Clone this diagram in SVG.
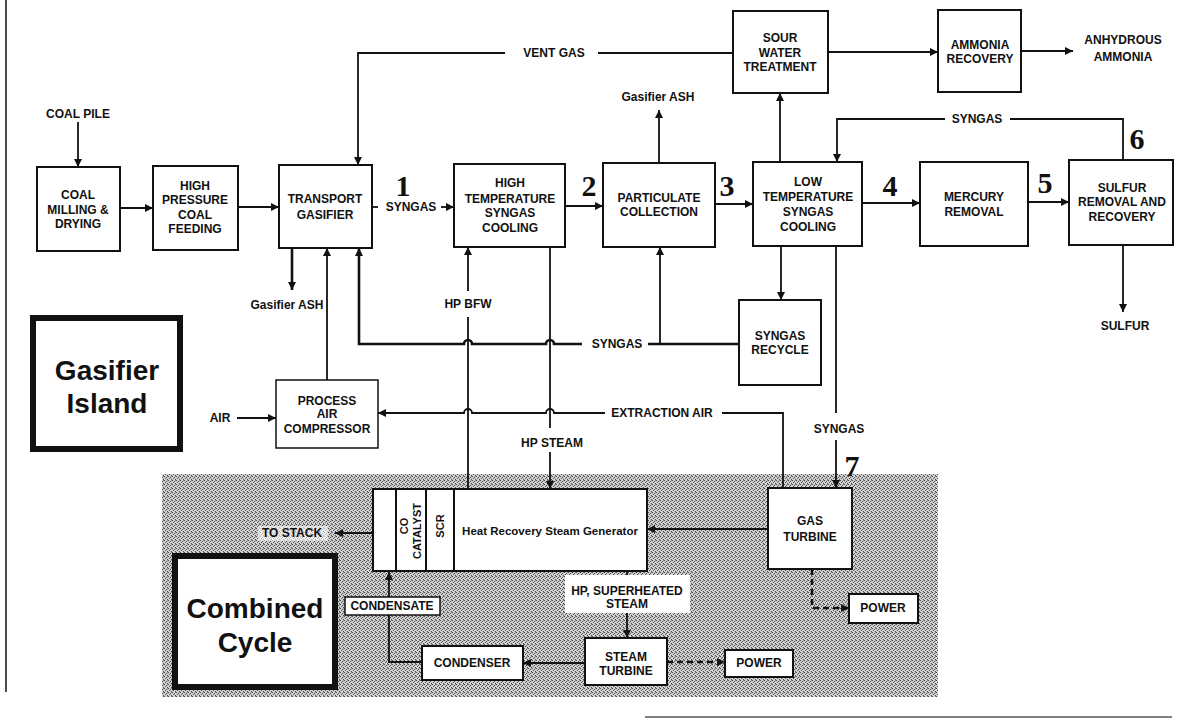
<svg xmlns="http://www.w3.org/2000/svg" width="1179" height="721" viewBox="0 0 1179 721">
<style>
.t{font-family:"Liberation Sans",Arial,sans-serif;font-weight:bold;font-size:12px;text-anchor:middle;fill:#111}
.n{font-family:"Liberation Serif","Times New Roman",serif;font-weight:bold;font-size:30px;text-anchor:middle;fill:#111}
.big{font-family:"Liberation Sans",Arial,sans-serif;font-weight:bold;font-size:28px;text-anchor:middle;fill:#111}
.box{fill:#fff;stroke:#111;stroke-width:2}
.thin{fill:#fff;stroke:#111;stroke-width:1.5}
.thick{fill:#fff;stroke:#111;stroke-width:6}
.ln{fill:none;stroke:#111;stroke-width:1.8}
.lnA{fill:none;stroke:#111;stroke-width:1.8;marker-end:url(#ah)}
.lnB{fill:none;stroke:#111;stroke-width:2.6;marker-end:url(#ah)}
.dash{fill:none;stroke:#111;stroke-width:2.6;stroke-dasharray:6 4;marker-end:url(#ah)}
</style>
<defs>
<marker id="ah" viewBox="0 0 10 10" refX="10" refY="5" markerUnits="userSpaceOnUse" markerWidth="10" markerHeight="8" orient="auto">
<path d="M0,0 L10,5 L0,10 z" fill="#111"/>
</marker>
<pattern id="dither" width="4" height="4" patternUnits="userSpaceOnUse">
<rect width="4" height="4" fill="#d0d0d0"/>
<rect x="0" y="0" width="1" height="1" fill="#4a4a4a"/>
<rect x="2" y="1" width="1" height="1" fill="#4a4a4a"/>
<rect x="1" y="2" width="1" height="1" fill="#5a5a5a"/>
<rect x="3" y="3" width="1" height="1" fill="#4a4a4a"/>
<rect x="3" y="0" width="1" height="1" fill="#8a8a8a"/>
</pattern>
</defs>
<rect width="1179" height="721" fill="#fff"/>
<path d="M6,0 V692" stroke="#111" stroke-width="1.5"/>
<path d="M645,717 H1172" stroke="#555" stroke-width="1.5"/>
<rect id="combined-cycle-area" x="162" y="474" width="776" height="223" fill="url(#dither)"/>

<g id="connectors">
<path class="lnA" d="M78,122 V167"/>
<path class="lnA" d="M120,208 H153"/>
<path class="lnA" d="M238,207 H279"/>
<path class="ln" d="M372,207 H378"/>
<path class="lnA" d="M441,207 H454"/>
<path class="lnA" d="M565,206 H603"/>
<path class="lnA" d="M715,204 H753"/>
<path class="lnA" d="M862,203 H920"/>
<path class="lnA" d="M1028,202 H1069"/>
<path class="lnA" d="M659,163 V110"/>
<path class="ln" d="M733,53 H598"/>
<path class="lnA" d="M505,53 H358 V165"/>
<path class="lnA" d="M828,52 H938"/>
<path class="lnA" d="M1021,51 H1073"/>
<path class="lnA" d="M780,162 V93"/>
<path class="ln" d="M1123,160 V119 H1010"/>
<path class="lnA" d="M945,119 H837 V162"/>
<path class="lnA" d="M1123,245 V312"/>
<path class="lnB" d="M292,248 V290"/>
<path class="lnA" d="M327,380 V248"/>
<path class="ln" d="M739,344 H648" style="stroke-width:2.6"/>
<path class="lnB" d="M582,344 H554 A4,4 0 0 0 546,344 H472 A4,4 0 0 0 464,344 H359 V248"/>
<path class="lnA" d="M660,344 V247"/>
<path class="lnA" d="M781,246 V300"/>
<path class="ln" d="M836,246 V413"/>
<path class="lnA" d="M836,440 V488"/>
<path class="ln" d="M783,488 V413 H722"/>
<path class="lnA" d="M605,413 H554 A4,4 0 0 0 546,413 H472 A4,4 0 0 0 464,413 H378"/>
<path class="lnA" d="M237,418 H276"/>
<path class="ln" d="M468,489 V317"/>
<path class="lnA" d="M468,291 V247"/>
<path class="ln" d="M550,247 V428"/>
<path class="lnA" d="M550,452 V489"/>
<path class="lnA" d="M768,529 H647"/>
<path class="lnA" d="M373,533 H335"/>
<path class="lnA" d="M627,571 V638"/>
<path class="lnA" d="M585,663 H523"/>
<path class="lnA" d="M422,662 H389 V572"/>
<path class="dash" d="M667,662 H725"/>
<path class="dash" d="M812,569 V608 H849"/>
</g>

<g id="labels">
<text class="t" x="411" y="211">SYNGAS</text>
<text class="n" x="403" y="196">1</text>
<text class="n" x="589" y="196">2</text>
<text class="n" x="727" y="196">3</text>
<text class="n" x="890" y="196">4</text>
<text class="n" x="1045" y="193">5</text>
<text class="n" x="1137" y="149">6</text>
<text class="n" x="852" y="476">7</text>
<text class="t" x="658" y="101">Gasifier ASH</text>
<text class="t" x="554" y="57">VENT GAS</text>
<text class="t" x="977" y="123">SYNGAS</text>
<text class="t" x="287" y="309">Gasifier ASH</text>
<text class="t" x="617" y="348">SYNGAS</text>
<text class="t" x="839" y="433">SYNGAS</text>
<text class="t" x="662" y="417">EXTRACTION AIR</text>
<text class="t" x="220" y="422">AIR</text>
<text class="t" x="468" y="308">HP BFW</text>
<text class="t" x="552" y="447">HP STEAM</text>
<text class="t" x="1125" y="330">SULFUR</text>
<rect x="258" y="526" width="70" height="15" fill="#fff" opacity="0.6"/>
<text class="t" x="292" y="537">TO STACK</text>
</g>

<g id="coal-pile"><text class="t" x="78" y="118">COAL PILE</text></g>
<g id="coal-milling"><rect class="box" x="37" y="167" width="83" height="84"/>
<text class="t" x="78" y="199">COAL</text><text class="t" x="78" y="214">MILLING &amp;</text><text class="t" x="78" y="228">DRYING</text></g>
<g id="hp-coal-feeding"><rect class="box" x="153" y="166" width="85" height="84"/>
<text class="t" x="195" y="190">HIGH</text><text class="t" x="195" y="204">PRESSURE</text><text class="t" x="195" y="219">COAL</text><text class="t" x="195" y="233">FEEDING</text></g>
<g id="transport-gasifier"><rect class="box" x="279" y="165" width="93" height="83"/>
<text class="t" x="325" y="203">TRANSPORT</text><text class="t" x="325" y="219">GASIFIER</text></g>
<g id="ht-syngas-cooling"><rect class="box" x="454" y="164" width="111" height="83"/>
<text class="t" x="510" y="187">HIGH</text><text class="t" x="510" y="203">TEMPERATURE</text><text class="t" x="510" y="217">SYNGAS</text><text class="t" x="510" y="232">COOLING</text></g>
<g id="particulate-collection"><rect class="box" x="603" y="163" width="112" height="84"/>
<text class="t" x="659" y="202">PARTICULATE</text><text class="t" x="659" y="216">COLLECTION</text></g>
<g id="sour-water-treatment"><rect class="box" x="733" y="11" width="95" height="82"/>
<text class="t" x="780" y="42">SOUR</text><text class="t" x="780" y="57">WATER</text><text class="t" x="780" y="71">TREATMENT</text></g>
<g id="ammonia-recovery"><rect class="box" x="938" y="10" width="83" height="82"/>
<text class="t" x="980" y="49">AMMONIA</text><text class="t" x="980" y="63">RECOVERY</text></g>
<g id="anhydrous-ammonia"><text class="t" x="1123" y="44">ANHYDROUS</text><text class="t" x="1123" y="61">AMMONIA</text></g>
<g id="lt-syngas-cooling"><rect class="box" x="753" y="162" width="109" height="84"/>
<text class="t" x="808" y="186">LOW</text><text class="t" x="808" y="201">TEMPERATURE</text><text class="t" x="808" y="216">SYNGAS</text><text class="t" x="808" y="231">COOLING</text></g>
<g id="mercury-removal"><rect class="box" x="920" y="162" width="108" height="84"/>
<text class="t" x="974" y="201">MERCURY</text><text class="t" x="974" y="216">REMOVAL</text></g>
<g id="sulfur-removal"><rect class="box" x="1069" y="160" width="104" height="85"/>
<text class="t" x="1122" y="192">SULFUR</text><text class="t" x="1122" y="206">REMOVAL AND</text><text class="t" x="1122" y="221">RECOVERY</text></g>
<g id="syngas-recycle"><rect class="box" x="739" y="300" width="82" height="85"/>
<text class="t" x="780" y="340">SYNGAS</text><text class="t" x="780" y="354">RECYCLE</text></g>
<g id="process-air-compressor"><rect class="thin" x="276" y="380" width="102" height="68"/>
<text class="t" x="327" y="405">PROCESS</text><text class="t" x="327" y="418">AIR</text><text class="t" x="327" y="433">COMPRESSOR</text></g>
<g id="gasifier-island"><rect class="thick" x="33" y="318" width="147" height="131"/>
<text class="big" x="107" y="380">Gasifier</text><text class="big" x="107" y="413">Island</text></g>
<g id="hrsg"><rect class="box" x="373" y="489" width="274" height="82"/>
<path d="M396,489 V571 M426,489 V571 M454,489 V571" stroke="#111" stroke-width="2"/>
<text class="t" x="408" y="526" transform="rotate(-90 408 526)" style="font-size:11px">CO</text>
<text class="t" x="421" y="531" transform="rotate(-90 421 531)" style="font-size:11px">CATALYST</text>
<text class="t" x="444" y="526" transform="rotate(-90 444 526)" style="font-size:11px">SCR</text>
<text class="t" x="550" y="535" style="font-size:11.5px">Heat Recovery Steam Generator</text></g>
<g id="gas-turbine"><rect class="box" x="768" y="488" width="84" height="81"/>
<text class="t" x="810" y="525">GAS</text><text class="t" x="810" y="541">TURBINE</text></g>
<g id="hp-superheated-steam"><rect x="565" y="575" width="125" height="38" fill="#fff"/>
<text class="t" x="627" y="595">HP, SUPERHEATED</text><text class="t" x="627" y="608">STEAM</text></g>
<g id="steam-turbine"><rect class="box" x="585" y="638" width="82" height="47"/>
<text class="t" x="626" y="661">STEAM</text><text class="t" x="626" y="675">TURBINE</text></g>
<g id="condenser"><rect class="box" x="422" y="646" width="101" height="34"/>
<text class="t" x="472" y="667">CONDENSER</text></g>
<g id="condensate"><rect class="thin" x="345" y="597" width="95" height="18"/>
<text class="t" x="392" y="610">CONDENSATE</text></g>
<g id="power-st"><rect class="box" x="725" y="650" width="68" height="27"/>
<text class="t" x="759" y="667">POWER</text></g>
<g id="power-gt"><rect class="box" x="849" y="594" width="69" height="29"/>
<text class="t" x="883" y="612">POWER</text></g>
<g id="combined-cycle"><rect class="thick" x="175" y="556" width="160" height="131"/>
<text class="big" x="255" y="618">Combined</text><text class="big" x="255" y="652">Cycle</text></g>
</svg>
